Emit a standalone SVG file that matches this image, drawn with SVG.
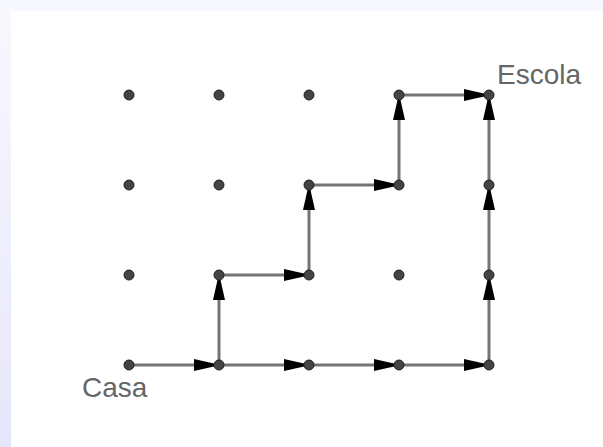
<svg xmlns="http://www.w3.org/2000/svg" width="603" height="447" viewBox="0 0 603 447">
  <defs>
    <linearGradient id="frame" x1="0" y1="0" x2="0" y2="1">
      <stop offset="0" stop-color="#f8f9fe"/>
      <stop offset="1" stop-color="#e6e6fb"/>
    </linearGradient>
    <!-- arrowhead: base 25px before the segment end, tip tucked under the point -->
    <marker id="head" viewBox="0 -6 25 12" refX="25" refY="0" markerWidth="25" markerHeight="12" markerUnits="userSpaceOnUse" orient="auto">
      <path d="M0,-6 L20,-1.5 L20,1.5 L0,6 Z" fill="#000"/>
    </marker>
    <style>
      .seg { stroke: #747474; stroke-width: 3; fill: none; marker-end: url(#head); }
      .pt { fill: #444; stroke: #222; stroke-width: 1; }
      .lbl { font-family: "Liberation Sans", Arial, sans-serif; font-size: 28px; fill: #666; }
    </style>
  </defs>

  <!-- frame and canvas -->
  <rect x="0" y="0" width="603" height="447" fill="url(#frame)"/>
  <rect x="11" y="11" width="592" height="436" fill="#fff"/>

  <!-- path segments -->
  <g id="connectors">
    <path class="seg" d="M129,365 L219,365"/>
    <path class="seg" d="M219,365 L309,365"/>
    <path class="seg" d="M309,365 L399,365"/>
    <path class="seg" d="M399,365 L489,365"/>
    <path class="seg" d="M489,365 L489,275"/>
    <path class="seg" d="M489,275 L489,185"/>
    <path class="seg" d="M489,185 L489,95"/>
    <path class="seg" d="M219,365 L219,275"/>
    <path class="seg" d="M219,275 L309,275"/>
    <path class="seg" d="M309,275 L309,185"/>
    <path class="seg" d="M309,185 L399,185"/>
    <path class="seg" d="M399,185 L399,95"/>
    <path class="seg" d="M399,95 L489,95"/>
  </g>

  <!-- grid points -->
  <g id="p-0-3"><circle class="pt" cx="129" cy="95" r="5"/></g>
  <g id="p-1-3"><circle class="pt" cx="219" cy="95" r="5"/></g>
  <g id="p-2-3"><circle class="pt" cx="309" cy="95" r="5"/></g>
  <g id="p-3-3"><circle class="pt" cx="399" cy="95" r="5"/></g>
  <g id="escola"><circle class="pt" cx="489" cy="95" r="5"/><text class="lbl" x="497" y="84">Escola</text></g>

  <g id="p-0-2"><circle class="pt" cx="129" cy="185" r="5"/></g>
  <g id="p-1-2"><circle class="pt" cx="219" cy="185" r="5"/></g>
  <g id="p-2-2"><circle class="pt" cx="309" cy="185" r="5"/></g>
  <g id="p-3-2"><circle class="pt" cx="399" cy="185" r="5"/></g>
  <g id="p-4-2"><circle class="pt" cx="489" cy="185" r="5"/></g>

  <g id="p-0-1"><circle class="pt" cx="129" cy="275" r="5"/></g>
  <g id="p-1-1"><circle class="pt" cx="219" cy="275" r="5"/></g>
  <g id="p-2-1"><circle class="pt" cx="309" cy="275" r="5"/></g>
  <g id="p-3-1"><circle class="pt" cx="399" cy="275" r="5"/></g>
  <g id="p-4-1"><circle class="pt" cx="489" cy="275" r="5"/></g>

  <g id="casa"><circle class="pt" cx="129" cy="365" r="5"/><text class="lbl" x="82" y="397">Casa</text></g>
  <g id="p-1-0"><circle class="pt" cx="219" cy="365" r="5"/></g>
  <g id="p-2-0"><circle class="pt" cx="309" cy="365" r="5"/></g>
  <g id="p-3-0"><circle class="pt" cx="399" cy="365" r="5"/></g>
  <g id="p-4-0"><circle class="pt" cx="489" cy="365" r="5"/></g>
</svg>
